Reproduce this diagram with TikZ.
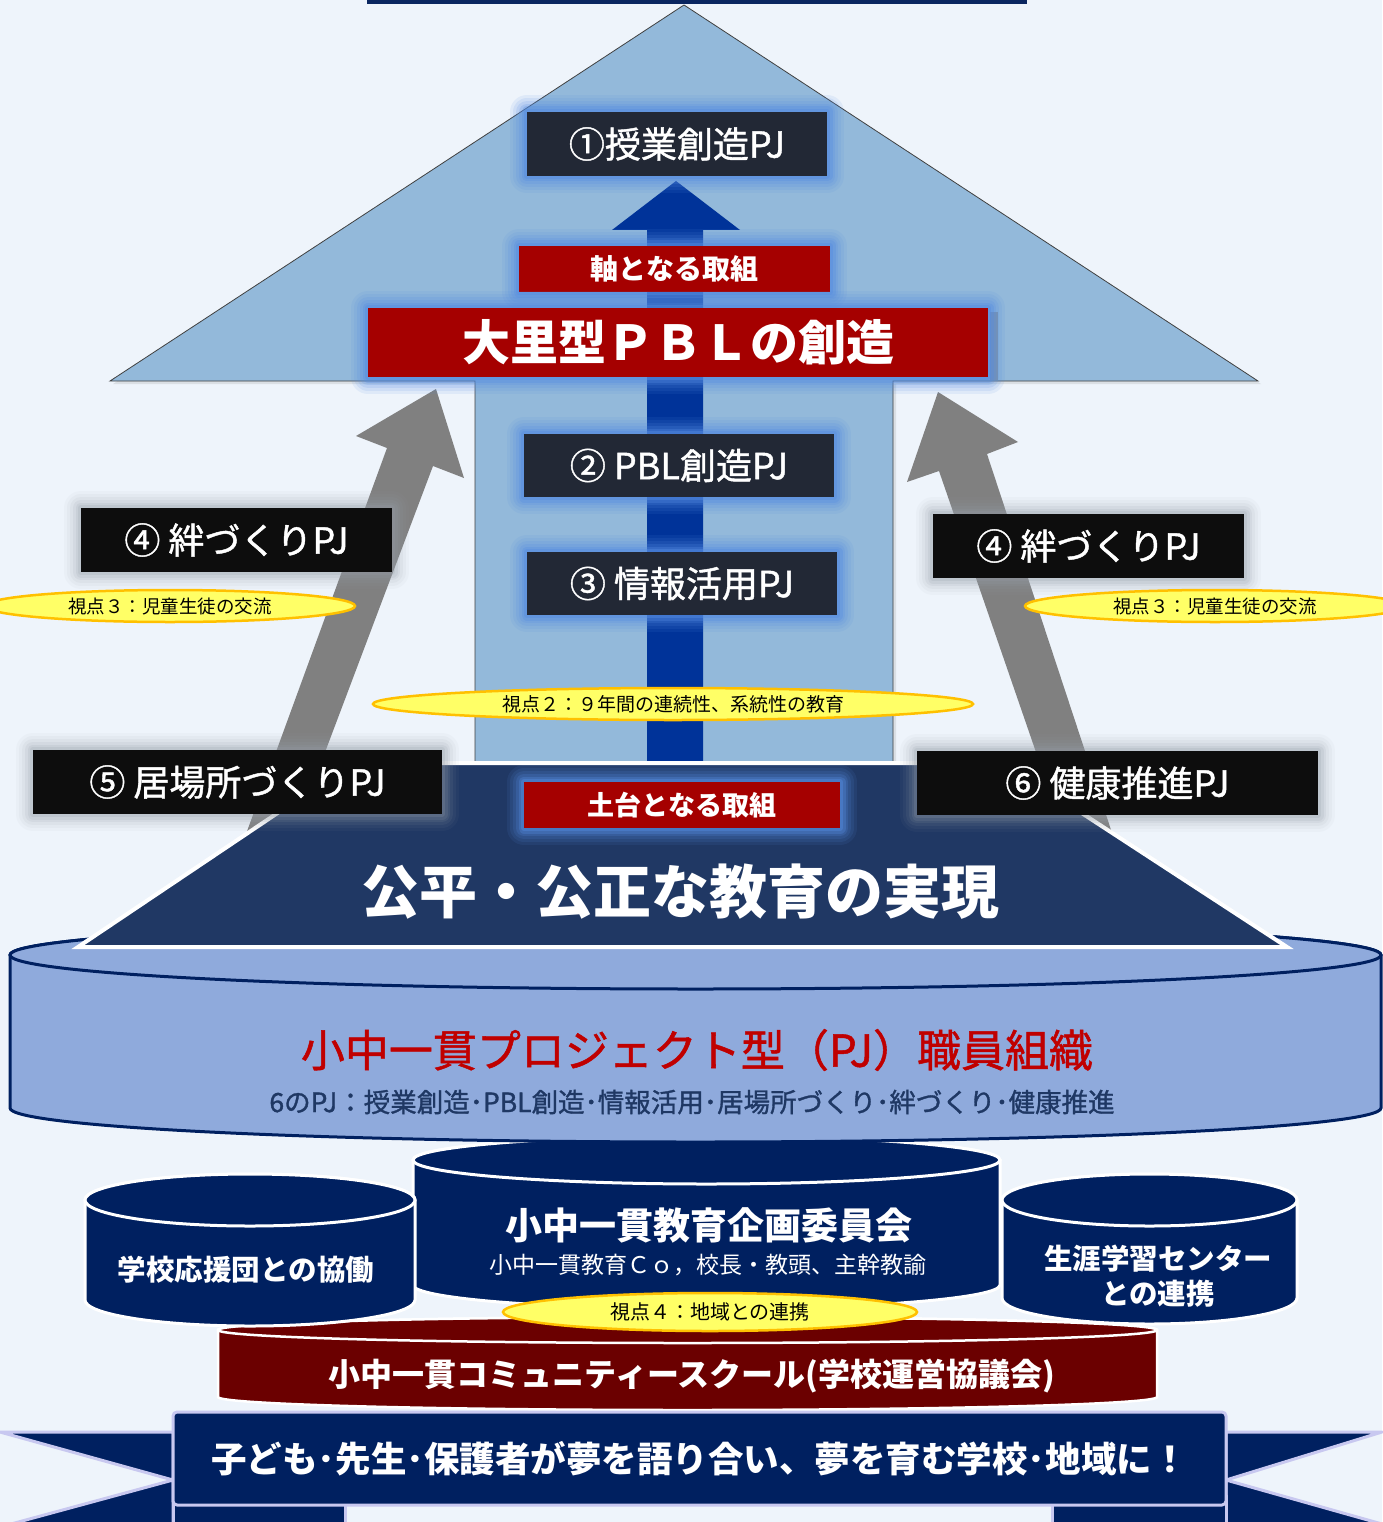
\documentclass[tikz,border=0pt]{standalone}
\usepackage{fontspec}
\setmainfont{Noto Sans CJK JP}
\newfontfamily\jpm{Noto Sans CJK JP}[FakeBold=1.2]
\usetikzlibrary{shapes.geometric,shadows}
\definecolor{bg}{RGB}{238,244,251}
\definecolor{navybar}{RGB}{10,38,96}
\definecolor{house}{RGB}{147,185,218}
\definecolor{bluearrow}{RGB}{0,51,153}
\definecolor{boxdark}{RGB}{34,40,53}
\definecolor{boxblack}{RGB}{13,13,13}
\definecolor{glowblue}{RGB}{85,140,225}
\definecolor{glowgray}{RGB}{150,158,168}
\definecolor{redbox}{RGB}{165,0,0}
\definecolor{trap}{RGB}{32,56,100}
\definecolor{cylfill}{RGB}{143,170,220}
\definecolor{cylline}{RGB}{0,32,96}
\definecolor{navycyl}{RGB}{0,32,96}
\definecolor{darkred}{RGB}{107,0,0}
\definecolor{yel}{RGB}{255,255,102}
\definecolor{yelline}{RGB}{255,192,0}
\definecolor{lav}{RGB}{200,200,240}
\definecolor{redtext}{RGB}{192,0,0}
\definecolor{navytext}{RGB}{31,56,100}
\definecolor{grayarrow}{RGB}{128,128,128}
\newcommand{\fs}[1]{\fontsize{#1pt}{#1pt}\selectfont}
% cylinder: cx, rx, top cy, bottom cy, ry, style
\newcommand{\mycyl}[6]{%
  \path[#6] (#1-#2,#3) -- (#1-#2,#4) arc[start angle=180,end angle=0,x radius=#2,y radius=#5]
     -- (#1+#2,#3) arc[start angle=0,end angle=-180,x radius=#2,y radius=#5] -- cycle;
  \path[#6] (#1,#3) ellipse[x radius=#2,y radius=#5];
}
\tikzset{
  gl/.style n args={3}{preaction={draw=#1,line width=#2,opacity=#3,line join=round}},
  glowb/.style={gl={glowblue}{34pt}{.10},gl={glowblue}{28pt}{.12},gl={glowblue}{22pt}{.15},
                gl={glowblue}{16pt}{.2},gl={glowblue}{11pt}{.3},gl={glowblue}{6pt}{.4}},
  glowg/.style={gl={glowgray}{34pt}{.05},gl={glowgray}{28pt}{.07},gl={glowgray}{22pt}{.09},
                gl={glowgray}{16pt}{.12},gl={glowgray}{11pt}{.15},gl={glowgray}{6pt}{.2}},
  pjbox/.style={fill=boxdark,text=white,inner sep=0pt,font=\jpm\fs{36},glowb},
  blkbox/.style={fill=boxblack,text=white,inner sep=0pt,font=\jpm\fs{36},minimum height=64pt,glowg},
  redlbl/.style={fill=redbox,text=white,inner sep=0pt,font=\bfseries\fs{28},glowb},
  viewpt/.style={ellipse,fill=yel,draw=yelline,line width=2.5pt,inner sep=0pt,font=\fs{19},minimum height=32pt},
  navycylst/.style={fill=navycyl,draw=white,line width=3pt},
  redcylst/.style={fill=darkred,draw=white,line width=2.5pt},
  bigcylst/.style={fill=cylfill,draw=cylline,line width=3pt},
  ribbonst/.style={fill=navycyl,draw=lav,line width=3pt,line join=round},
}
\begin{document}
\begin{tikzpicture}[x=1pt,y=-1pt]
\useasboundingbox (0,0) rectangle (1382,1522);
\fill[bg] (0,0) rectangle (1382,1522);
% top bar
\fill[navybar] (367,-2) rectangle (1027,4);
% house arrow
\path[fill=house,draw=black!75,line width=0.8pt,
      drop shadow={opacity=.18,shadow xshift=3pt,shadow yshift=-3pt}]
  (684,5) -- (1258,381) -- (893,381) -- (893,765) -- (475,765) -- (475,381) -- (110,381) -- cycle;
% gray arrows
\fill[grayarrow] (242,845) -- (387,448) -- (356,436) -- (436,389) -- (464,478) -- (433,466) -- (290,845) -- cycle;
\fill[grayarrow] (1068,845) -- (939,471) -- (907,482) -- (938,392) -- (1018,442) -- (987,454) -- (1116,845) -- cycle;
% blue arrow
\fill[bluearrow] (647,765) -- (647,230) -- (612,230) -- (676,181) -- (740,230) -- (703,230) -- (703,765) -- cycle;
% upper boxes
\node[pjbox,minimum width=300pt,minimum height=64pt] (pj1) at (677,144) {①授業創造PJ};
\node[redlbl,minimum width=311pt,minimum height=46pt] (jiku) at (674.5,269) {軸となる取組};
\fill[black!55,opacity=.5] (990,312) rectangle (998,380);
\node[redlbl,font=\bfseries\fs{48},minimum width=620pt,minimum height=69pt] (pbl) at (678,342.5) {大里型ＰＢＬの創造};
\node[pjbox,minimum width=310pt,minimum height=63pt] (pj2) at (679,465.5) {② PBL創造PJ};
\node[pjbox,minimum width=310pt,minimum height=63pt] (pj3) at (682,583.5) {③ 情報活用PJ};
\node[viewpt,minimum width=600pt] (v2) at (673,704) {視点２：９年間の連続性、系統性の教育};
% lower structures
\mycyl{687.5}{469.5}{1330}{1397}{13}{redcylst}
\node[text=white,font=\bfseries\fs{32}] (cs) at (692,1376) {小中一貫コミュニティースクール(学校運営協議会)};
\mycyl{706.5}{293.5}{1160}{1285}{24}{navycylst}
\node[text=white,font=\bfseries\fs{37}] (kikaku) at (709,1225) {小中一貫教育企画委員会};
\node[text=white,font=\fs{23}] (kikakusub) at (708,1265) {小中一貫教育Ｃｏ，校長・教頭、主幹教諭};
\mycyl{250}{165}{1200}{1300}{26}{navycylst}
\node[text=white,font=\bfseries\fs{28.5}] (ouen) at (246,1270) {学校応援団との協働};
\mycyl{1149.5}{147.5}{1200}{1298}{26}{navycylst}
\node[text=white,font=\bfseries\fs{28.5},align=center,inner sep=0pt] (shogai) at (1158,1276) {生涯学習センター\\[6pt]との連携};
\node[viewpt,minimum width=414pt,minimum height=38pt,font=\fs{20}] (v4) at (710,1312) {視点４：地域との連携};
% ribbon
\path[ribbonst] (0,1432) -- (173,1432) -- (173,1480) -- cycle;
\path[ribbonst] (173,1480) -- (0,1527) -- (173,1527) -- cycle;
\path[ribbonst] (1382,1432) -- (1226,1432) -- (1226,1480) -- cycle;
\path[ribbonst] (1226,1480) -- (1382,1524) -- (1382,1530) -- (1226,1530) -- cycle;
\path[ribbonst] (173,1495) rectangle (345,1530);
\path[ribbonst] (1052,1495) rectangle (1226,1530);
\node[ribbonst,rounded corners=4pt,minimum width=1053pt,minimum height=93pt,text=white,font=\bfseries\fs{35.5},inner sep=0pt] (banner) at (699.5,1458.5) {子ども･先生･保護者が夢を語り合い、夢を育む学校･地域に！};
% big cylinder
\mycyl{695.5}{685.5}{955}{1108}{34}{bigcylst}
\node[text=redtext,font=\jpm\fs{44}] (soshiki) at (697,1050) {小中一貫プロジェクト型（PJ）職員組織};
\node[text=navytext,font=\jpm\fs{26.5}] (six) at (692,1102) {6のPJ：授業創造･PBL創造･情報活用･居場所づくり･絆づくり･健康推進};
% trapezoid
\path[fill=trap,draw=white,line width=4pt,line join=miter] (352,763) -- (1005,763) -- (1287,947) -- (78,947) -- cycle;
\node[redlbl,font=\bfseries\fs{27},minimum width=316pt,minimum height=46pt] (dodai) at (682,805) {土台となる取組};
\node[text=white,font=\bfseries\fs{58}] (kouhei) at (680,892) {公平・公正な教育の実現};
% side boxes
\node[blkbox,minimum width=311pt] (pj4l) at (236.5,540) {④ 絆づくりPJ};
\node[blkbox,minimum width=311pt] (pj4r) at (1088.5,546) {④ 絆づくりPJ};
\node[blkbox,minimum width=409pt] (pj5) at (237.5,782) {⑤ 居場所づくりPJ};
\node[blkbox,minimum width=401pt] (pj6) at (1117.5,783) {⑥ 健康推進PJ};
\node[viewpt,minimum width=370pt,font=\fs{18.5}] (v3l) at (170,606) {視点３：児童生徒の交流};
\node[viewpt,minimum width=380pt,font=\fs{18.5}] (v3r) at (1215,606) {視点３：児童生徒の交流};
\end{tikzpicture}
\end{document}
